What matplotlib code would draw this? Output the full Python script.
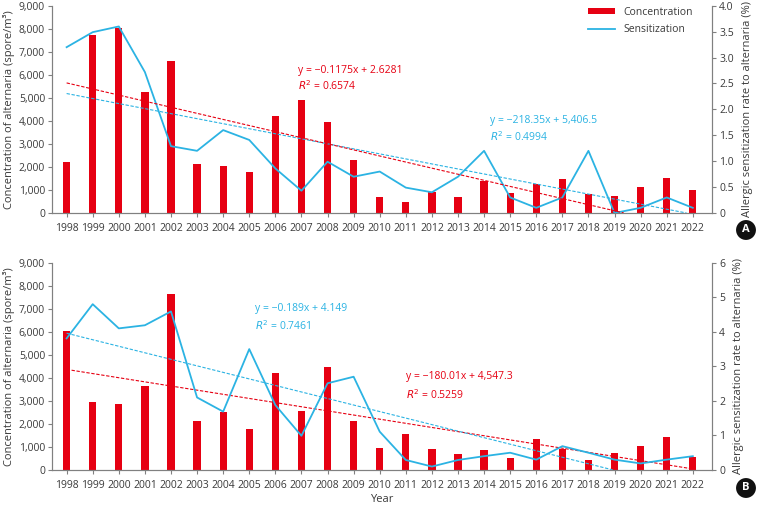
import numpy as np
import matplotlib
matplotlib.use("Agg")
import matplotlib.pyplot as plt
from matplotlib.ticker import FuncFormatter

years = list(range(1998, 2023))

# panel A
conc_a = [2230, 7720, 8050, 5260, 6600, 2140, 2020, 1780, 4220, 4910, 3940, 2310, 710,
          490, 910, 710, 1370, 870, 1260, 1490, 820, 750, 1130, 1500, 1010]
sens_a = [3.2, 3.49, 3.6, 2.72, 1.29, 1.2, 1.6, 1.41, 0.86, 0.43, 0.99, 0.7, 0.8,
          0.49, 0.4, 0.7, 1.2, 0.3, 0.1, 0.3, 1.2, 0.0, 0.1, 0.3, 0.1]
# panel B
conc_b = [6040, 2950, 2880, 3660, 7650, 2110, 2530, 1770, 4200, 2560, 4460, 2110, 950,
          1560, 900, 700, 870, 520, 1330, 900, 430, 720, 1040, 1430, 560]
sens_b = [3.81, 4.8, 4.1, 4.19, 4.59, 2.1, 1.69, 3.5, 1.88, 0.99, 2.51, 2.7, 1.11,
          0.29, 0.1, 0.29, 0.4, 0.5, 0.3, 0.69, 0.5, 0.3, 0.19, 0.3, 0.4]

# trend equations as printed (x = 1 for 1998)
trend_a_conc = [-218.35, 5406.5]
trend_a_sens = [-0.1175, 2.6281]
trend_b_conc = [-180.01, 4547.3]
trend_b_sens = [-0.189, 4.149]

RED = "#e60012"
BLUE = "#2bb3e3"
TXT = "#3a3a3a"
GRAY = "#808080"

plt.rcParams['font.family'] = ['Open Sans', 'DejaVu Sans']
plt.rcParams['font.size'] = 7.5
plt.rcParams['text.color'] = TXT
plt.rcParams['axes.labelcolor'] = TXT
plt.rcParams['xtick.color'] = GRAY
plt.rcParams['ytick.color'] = GRAY
plt.rcParams['xtick.labelcolor'] = TXT
plt.rcParams['ytick.labelcolor'] = TXT

fig = plt.figure(figsize=(7.57, 5.08), dpi=100)


def trend(coef, lo):
    xs = np.linspace(1998, 2022, 400)
    ys = coef[0] * (xs - 1997) + coef[1]
    m = ys >= lo
    return xs[m], ys[m]


def panel(rect, conc, sens, rmax, rticks, rfmt, tconc, tsens, red_trend_sens):
    ax = fig.add_axes(rect)
    ax2 = ax.twinx()
    ax.bar(years, conc, width=0.28, color=RED, label="Concentration", zorder=2)
    ax.set_xlim(1997.44, 2022.74)
    ax.set_ylim(0, 9000)
    ax.set_yticks(range(0, 9001, 1000))
    ax.yaxis.set_major_formatter(FuncFormatter(lambda v, p: f"{int(v):,}"))
    ax.set_xticks(years)
    ax.set_xticklabels([str(y) for y in years])
    ax2.set_ylim(0, rmax)
    ax2.set_yticks(rticks)
    ax2.yaxis.set_major_formatter(FuncFormatter(rfmt))
    ax2.plot(years, sens, color=BLUE, lw=1.3, label="Sensitization", zorder=3)

    # dashed trend lines
    xs, ys = trend(tconc, 0)
    xs2, ys2 = trend(tsens, 0)
    c_col = BLUE if red_trend_sens else RED
    s_col = RED if red_trend_sens else BLUE
    ax.plot(xs, ys, ls=(0, (3, 1.5)), lw=0.8, color=c_col, zorder=4)
    ax2.plot(xs2, ys2, ls=(0, (3, 1.5)), lw=0.8, color=s_col, zorder=4)

    for a in (ax, ax2):
        a.spines['top'].set_visible(False)
        for s in a.spines.values():
            s.set_color(GRAY)
            s.set_linewidth(0.8)
        a.tick_params(length=3, width=0.8, pad=2, labelsize=7.5)
    ax.tick_params(axis='x', pad=4)
    ax.set_ylabel("Concentration of alternaria (spore/m³)", fontsize=8, labelpad=3)
    ax2.set_ylabel("Allergic sensitization rate to alternaria (%)", fontsize=8, labelpad=6)
    return ax, ax2


def fmt_a(v, p):
    return "0" if v == 0 else f"{v:.1f}"


ax, ax2 = panel([0.0687, 0.5807, 0.872, 0.408], conc_a, sens_a, 4.0,
                np.arange(0, 4.01, 0.5), fmt_a, trend_a_conc, trend_a_sens, True)
h1, l1 = ax.get_legend_handles_labels()
h2, l2 = ax2.get_legend_handles_labels()
ax.legend(h1 + h2, l1 + l2, loc="upper right", bbox_to_anchor=(0.985, 1.04), frameon=False,
          fontsize=7.5, handlelength=2.6, handleheight=0.6, labelspacing=0.6)
fig.text(298 / 757, 1 - 70 / 508, "y = \u22120.1175x + 2.6281", color=RED, fontsize=7.5, va="center")
fig.text(298 / 757, 1 - 86 / 508, "$R^2$ = 0.6574", color=RED, fontsize=7.5, va="center")
fig.text(490 / 757, 1 - 120 / 508, "y = \u2212218.35x + 5,406.5", color=BLUE, fontsize=7.5, va="center")
fig.text(490 / 757, 1 - 137 / 508, "$R^2$ = 0.4994", color=BLUE, fontsize=7.5, va="center")

bx, bx2 = panel([0.0687, 0.0748, 0.872, 0.408], conc_b, sens_b, 6,
                range(0, 7), lambda v, p: f"{int(v)}", trend_b_conc, trend_b_sens, False)
bx.set_xlabel("Year", fontsize=8, labelpad=2)
fig.text(255 / 757, 1 - 309 / 508, "y = \u22120.189x + 4.149", color=BLUE, fontsize=7.5, va="center")
fig.text(255 / 757, 1 - 326 / 508, "$R^2$ = 0.7461", color=BLUE, fontsize=7.5, va="center")
fig.text(406 / 757, 1 - 377 / 508, "y = \u2212180.01x + 4,547.3", color=RED, fontsize=7.5, va="center")
fig.text(406 / 757, 1 - 395 / 508, "$R^2$ = 0.5259", color=RED, fontsize=7.5, va="center")

# panel badges
for lab, yy in (("A", 230), ("B", 488)):
    fig.text(746 / 757, 1 - yy / 508, lab, color="white", fontsize=8, fontweight="bold",
             ha="center", va="center",
             bbox=dict(boxstyle="circle,pad=0.4", fc="#111111", ec="none"))

fig.savefig("out.png", dpi=100)
